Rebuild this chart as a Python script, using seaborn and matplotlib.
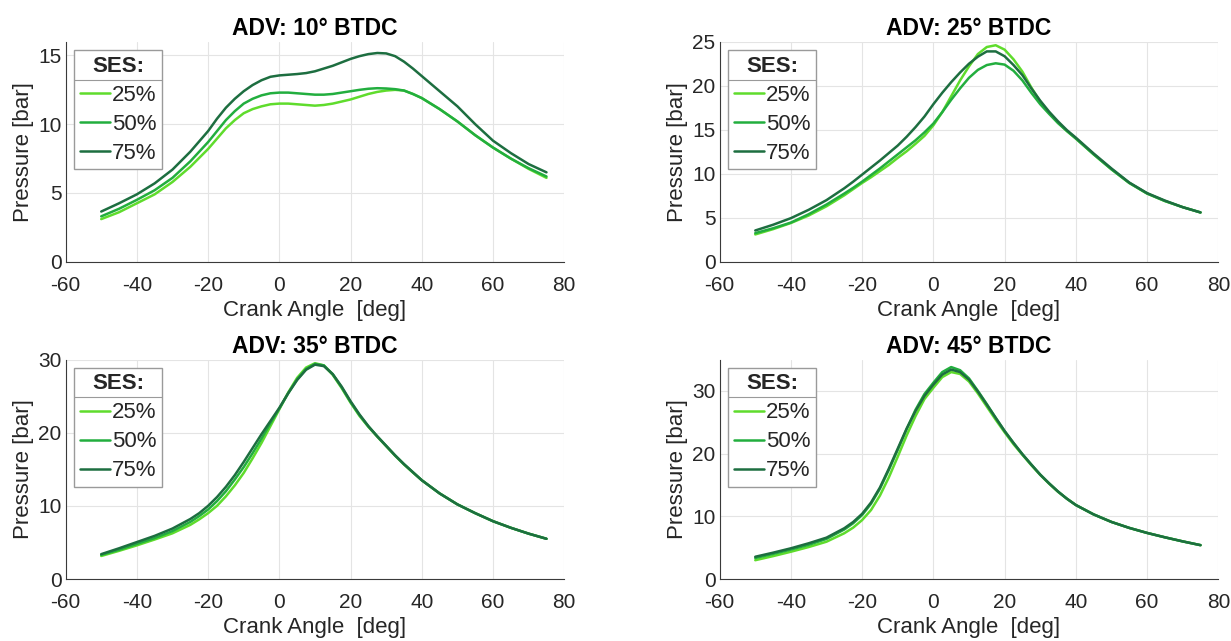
import numpy as np
import pandas as pd
import matplotlib
matplotlib.use("Agg")
import matplotlib.pyplot as plt
import seaborn as sns
from matplotlib.lines import Line2D

# ---------------- data ----------------
crank_angle = [-50, -45, -40, -35, -30, -25,
               -22.5, -20, -17.5, -15, -12.5, -10, -7.5, -5, -2.5, 0, 2.5, 5, 7.5, 10,
               12.5, 15, 17.5, 20, 22.5, 25, 27.5, 30, 32.5, 35, 37.5, 40,
               45, 50, 55, 60, 65, 70, 75]  # deg
ses_levels = ["25%", "50%", "75%"]
panel_titles = ["ADV: 10° BTDC", "ADV: 25° BTDC", "ADV: 35° BTDC", "ADV: 45° BTDC"]
y_limits = [16, 25, 30, 35]

adv10_ses25 = [3.1, 3.6, 4.25, 4.9, 5.8, 6.9,
               7.55, 8.2, 8.95, 9.7, 10.3, 10.8, 11.1, 11.3, 11.45, 11.5, 11.5, 11.45, 11.4, 11.35,
               11.4, 11.5, 11.65, 11.8, 12.0, 12.2, 12.35, 12.45, 12.5, 12.45, 12.2, 11.9,
               11.1, 10.2, 9.2, 8.3, 7.5, 6.75, 6.1]
adv10_ses50 = [3.3, 3.85, 4.5, 5.2, 6.1, 7.3,
               8.0, 8.7, 9.5, 10.3, 10.95, 11.5, 11.85, 12.1, 12.25, 12.3, 12.3, 12.25, 12.2, 12.15,
               12.15, 12.2, 12.3, 12.4, 12.5, 12.58, 12.62, 12.6, 12.55, 12.45, 12.2, 11.9,
               11.1, 10.2, 9.2, 8.3, 7.5, 6.8, 6.2]
adv10_ses75 = [3.65, 4.25, 4.9, 5.7, 6.7, 8.0,
               8.75, 9.5, 10.4, 11.2, 11.85, 12.4, 12.85, 13.2, 13.45, 13.55, 13.6, 13.65, 13.72, 13.85,
               14.05, 14.25, 14.5, 14.75, 14.95, 15.1, 15.18, 15.15, 14.95, 14.55, 14.05, 13.5,
               12.4, 11.3, 10.0, 8.8, 7.9, 7.1, 6.5]

adv25_ses25 = [3.1, 3.7, 4.4, 5.25, 6.3, 7.55,
               8.25, 8.95, 9.6, 10.3, 11.0, 11.8, 12.55, 13.4, 14.3, 15.5, 17.0, 18.8, 20.6, 22.2,
               23.6, 24.4, 24.6, 24.1, 23.0, 21.6, 19.8, 18.2, 16.9, 15.8, 14.85, 14.0,
               12.2, 10.5, 8.95, 7.75, 6.9, 6.2, 5.6]
adv25_ses50 = [3.25, 3.8, 4.45, 5.4, 6.5, 7.75,
               8.4, 9.1, 9.85, 10.6, 11.4, 12.2, 13.0, 13.8, 14.7, 15.7, 17.0, 18.4, 19.7, 20.9,
               21.8, 22.35, 22.55, 22.4, 21.7, 20.6, 19.2, 17.9, 16.8, 15.75, 14.85, 14.0,
               12.2, 10.5, 8.95, 7.75, 6.9, 6.2, 5.6]
adv25_ses75 = [3.55, 4.2, 4.95, 5.9, 7.0, 8.35,
               9.1, 9.9, 10.7, 11.5, 12.35, 13.2, 14.2, 15.3, 16.5, 17.9, 19.2, 20.4, 21.5, 22.5,
               23.3, 23.9, 23.9, 23.35, 22.35, 21.2, 19.7, 18.3, 17.05, 15.95, 14.95, 14.1,
               12.3, 10.6, 9.0, 7.8, 6.95, 6.2, 5.6]

adv35_ses25 = [3.15, 3.85, 4.6, 5.4, 6.25, 7.4,
               8.15, 9.0, 10.0, 11.3, 12.8, 14.5, 16.5, 18.6, 20.9, 23.2, 25.5, 27.5, 28.9, 29.5,
               29.2, 27.9, 26.1, 24.1, 22.3, 20.8, 19.45, 18.15, 16.85, 15.65, 14.55, 13.5,
               11.7, 10.2, 9.0, 7.9, 7.0, 6.2, 5.5]
adv35_ses50 = [3.3, 4.0, 4.8, 5.6, 6.55, 7.8,
               8.6, 9.5, 10.65, 12.0, 13.6, 15.3, 17.2, 19.2, 21.3, 23.3, 25.4, 27.3, 28.7, 29.4,
               29.2, 28.0, 26.2, 24.2, 22.4, 20.85, 19.5, 18.2, 16.9, 15.7, 14.6, 13.5,
               11.7, 10.2, 9.0, 7.9, 7.0, 6.2, 5.5]
adv35_ses75 = [3.4, 4.2, 5.05, 5.9, 6.9, 8.2,
               9.0, 10.0, 11.2, 12.6, 14.2, 16.0, 17.9, 19.8, 21.6, 23.4, 25.4, 27.2, 28.6, 29.3,
               29.1, 28.0, 26.3, 24.3, 22.5, 20.9, 19.5, 18.2, 16.9, 15.7, 14.6, 13.5,
               11.7, 10.2, 9.0, 7.9, 7.0, 6.2, 5.5]

adv45_ses25 = [3.0, 3.65, 4.35, 5.1, 5.95, 7.3,
               8.2, 9.4, 11.0, 13.3, 16.2, 19.5, 22.9, 26.0, 28.7, 30.5, 32.2, 33.0, 32.7, 31.5,
               29.6, 27.5, 25.4, 23.4, 21.5, 19.8, 18.15, 16.6, 15.2, 13.9, 12.8, 11.8,
               10.3, 9.1, 8.15, 7.35, 6.65, 6.0, 5.4]
adv45_ses50 = [3.35, 4.0, 4.7, 5.45, 6.4, 7.9,
               8.9, 10.2, 12.0, 14.4, 17.4, 20.6, 23.9, 27.0, 29.5, 31.3, 33.0, 33.8, 33.3, 32.0,
               30.0, 27.9, 25.7, 23.6, 21.7, 19.9, 18.25, 16.65, 15.25, 13.95, 12.8, 11.8,
               10.3, 9.1, 8.15, 7.35, 6.65, 6.0, 5.4]
adv45_ses75 = [3.55, 4.2, 4.9, 5.7, 6.6, 8.1,
               9.1, 10.4, 12.2, 14.6, 17.6, 20.8, 24.0, 26.8, 29.2, 31.0, 32.6, 33.4, 33.0, 31.8,
               29.9, 27.8, 25.7, 23.6, 21.7, 19.9, 18.25, 16.65, 15.25, 13.95, 12.8, 11.8,
               10.3, 9.1, 8.15, 7.35, 6.65, 6.0, 5.4]

panels = [
    [adv10_ses25, adv10_ses50, adv10_ses75],
    [adv25_ses25, adv25_ses50, adv25_ses75],
    [adv35_ses25, adv35_ses50, adv35_ses75],
    [adv45_ses25, adv45_ses50, adv45_ses75],
]

# ---------------- style ----------------
sns.set_style("white")
plt.rcParams["font.family"] = ["Liberation Sans", "DejaVu Sans"]
plt.rcParams["axes.unicode_minus"] = False
colors = {"25%": "#5fdc2c", "50%": "#22ae3e", "75%": "#1d6e40"}
text_gray = "#262626"

W, H = 1231, 641
fig = plt.figure(figsize=(W / 100, H / 100), dpi=100)
positions = [
    [0.0533, 0.5917, 0.4051, 0.3432],
    [0.5846, 0.5917, 0.4051, 0.3432],
    [0.0533, 0.0967, 0.4051, 0.3424],
    [0.5846, 0.0967, 0.4051, 0.3424],
]

legends = []
for pos, series, title, ytop in zip(positions, panels, panel_titles, y_limits):
    ax = fig.add_axes(pos)
    frames = []
    for lvl, vals in zip(ses_levels, series):
        frames.append(pd.DataFrame({"Crank Angle": crank_angle, "Pressure": vals, "SES": lvl}))
    df = pd.concat(frames, ignore_index=True)
    sns.lineplot(data=df, x="Crank Angle", y="Pressure", hue="SES", hue_order=ses_levels,
                 palette=colors, linewidth=1.8, ax=ax, legend=False, sort=False)
    ax.set_xlim(-60, 80)
    ax.set_ylim(0, ytop)
    ax.set_xticks(np.arange(-60, 81, 20))
    ax.grid(True, color="#e4e4e4", linewidth=0.8)
    ax.set_axisbelow(True)
    for s in ["top", "right"]:
        ax.spines[s].set_visible(False)
    for s in ["left", "bottom"]:
        ax.spines[s].set_color("#3a3a3a")
        ax.spines[s].set_linewidth(0.8)
    ax.tick_params(axis="both", direction="in", length=4, width=0.8, colors="#3a3a3a",
                   labelsize=15, labelcolor=text_gray)
    ax.tick_params(axis="x", pad=10)
    ax.tick_params(axis="y", pad=3)
    ax.set_xlabel("Crank Angle  [deg]", fontsize=16, color=text_gray, labelpad=4)
    ax.set_ylabel("Pressure [bar]", fontsize=16, color=text_gray, labelpad=3)
    ax.set_title(title, fontsize=16.5, fontweight="bold", color="black", pad=5)

    handles = [Line2D([0], [0], color=colors[l], lw=1.8) for l in ses_levels]
    leg = ax.legend(handles, ses_levels, title="SES:", loc="upper left",
                    bbox_to_anchor=(0.0175, 0.962), borderaxespad=0,
                    fontsize=16, title_fontproperties={"weight": "bold", "size": 16},
                    frameon=True, fancybox=False, edgecolor="#9a9a9a",
                    handlelength=1.35, handletextpad=0.1, labelspacing=0.36,
                    borderpad=0.25, framealpha=1)
    leg.get_frame().set_linewidth(1.0)
    legends.append(leg)

# separator line under legend title (like the reference)
fig.canvas.draw()
renderer = fig.canvas.get_renderer()
for leg in legends:
    fb = leg.get_frame().get_window_extent(renderer)
    tb = leg.get_title().get_window_extent(renderer)
    y = tb.y0 - 3
    fig.add_artist(Line2D([fb.x0 / W, fb.x1 / W], [y / H, y / H], transform=fig.transFigure,
                          color="#9a9a9a", lw=0.8))

fig.savefig("out.png", dpi=100)
